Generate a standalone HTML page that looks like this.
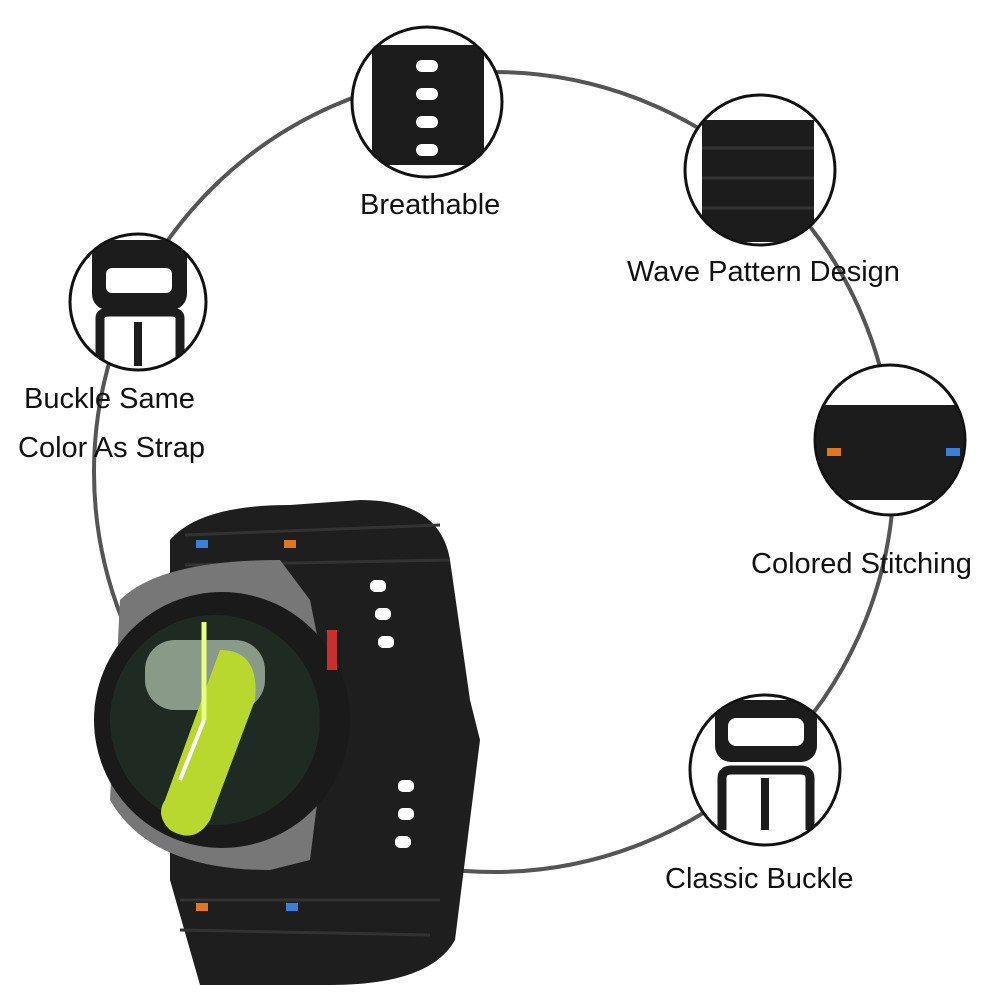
<!DOCTYPE html>
<html><head><meta charset="utf-8"><style>
body{margin:0;background:#fff}
svg{display:block}
text{font-family:"Liberation Sans",sans-serif;font-size:29px;fill:#111}
</style></head><body>
<svg width="1000" height="1000" viewBox="0 0 1000 1000">
<defs>
<clipPath id="c1"><circle cx="427" cy="102" r="74"/></clipPath>
<clipPath id="c2"><circle cx="760" cy="170" r="74"/></clipPath>
<clipPath id="c3"><circle cx="138" cy="302" r="67"/></clipPath>
<clipPath id="c4"><circle cx="890" cy="440" r="74"/></clipPath>
<clipPath id="c5"><circle cx="765" cy="770" r="74"/></clipPath>
</defs>
<circle cx="494" cy="472" r="400" fill="none" stroke="#555" stroke-width="4"/>
<!-- Breathable -->
<circle cx="427" cy="102" r="75" fill="#fff" stroke="#111" stroke-width="3"/>
<g clip-path="url(#c1)">
<rect x="372" y="45" width="112" height="120" fill="#1c1c1c"/>
<g fill="#fff"><rect x="416" y="60" width="22" height="12" rx="6"/><rect x="416" y="88" width="22" height="12" rx="6"/><rect x="416" y="116" width="22" height="12" rx="6"/><rect x="416" y="144" width="22" height="12" rx="6"/></g>
</g>
<text x="360" y="214">Breathable</text>
<!-- Wave -->
<circle cx="760" cy="170" r="75" fill="#fff" stroke="#111" stroke-width="3"/>
<g clip-path="url(#c2)">
<rect x="702" y="120" width="112" height="122" fill="#1c1c1c"/>
<g stroke="#333" stroke-width="3"><line x1="702" y1="148" x2="814" y2="148"/><line x1="702" y1="178" x2="814" y2="178"/><line x1="702" y1="208" x2="814" y2="208"/></g>
</g>
<text x="627" y="281">Wave Pattern Design</text>
<!-- Buckle left -->
<circle cx="138" cy="302" r="68" fill="#fff" stroke="#111" stroke-width="3"/>
<g clip-path="url(#c3)">
<rect x="92" y="240" width="95" height="70" rx="16" fill="#1c1c1c"/>
<rect x="106" y="268" width="66" height="25" rx="6" fill="#fff"/>
<path d="M100 362 L100 318 Q100 312 110 312 L170 312 Q180 312 180 318 L180 362" fill="none" stroke="#1c1c1c" stroke-width="9"/>
<rect x="134" y="322" width="8" height="44" fill="#1c1c1c"/>
</g>
<text x="24" y="408">Buckle Same</text>
<text x="18" y="457">Color As Strap</text>
<!-- Stitching -->
<circle cx="890" cy="440" r="75" fill="#fff" stroke="#111" stroke-width="3"/>
<g clip-path="url(#c4)">
<rect x="815" y="405" width="160" height="95" fill="#1c1c1c"/>
<rect x="827" y="448" width="14" height="8" fill="#e07820"/>
<rect x="946" y="448" width="14" height="8" fill="#3a80d8"/>
</g>
<text x="751" y="573">Colored Stitching</text>
<!-- Classic buckle -->
<circle cx="765" cy="770" r="75" fill="#fff" stroke="#111" stroke-width="3"/>
<g clip-path="url(#c5)">
<rect x="715" y="700" width="102" height="62" rx="16" fill="#1c1c1c"/>
<rect x="728" y="718" width="76" height="28" rx="8" fill="#fff"/>
<path d="M722 830 L722 778 Q722 770 732 770 L800 770 Q810 770 810 778 L810 830" fill="none" stroke="#1c1c1c" stroke-width="9"/>
<rect x="761" y="778" width="8" height="52" fill="#1c1c1c"/>
</g>
<text x="665" y="888">Classic Buckle</text>
<!-- Watch -->
<path d="M170 540 Q200 505 290 505 L360 500 Q440 500 450 560 L470 700 L480 740 L455 940 Q430 985 330 985 L200 985 L170 880 Z" fill="#1e1e1e"/>
<g stroke="#333" stroke-width="3">
<line x1="185" y1="535" x2="440" y2="525"/><line x1="185" y1="565" x2="450" y2="560"/><line x1="180" y1="900" x2="440" y2="900"/><line x1="180" y1="930" x2="430" y2="935"/>
</g>
<g fill="#fff"><rect x="370" y="580" width="16" height="12" rx="5"/><rect x="375" y="608" width="16" height="12" rx="5"/><rect x="378" y="636" width="16" height="12" rx="5"/><rect x="398" y="780" width="16" height="12" rx="5"/><rect x="398" y="808" width="16" height="12" rx="5"/><rect x="395" y="836" width="16" height="12" rx="5"/></g>
<rect x="196" y="540" width="12" height="8" fill="#3a80d8"/><rect x="284" y="540" width="12" height="8" fill="#e07820"/>
<rect x="196" y="903" width="12" height="8" fill="#e07820"/><rect x="286" y="903" width="12" height="8" fill="#3a80d8"/>
<path d="M120 600 Q160 560 280 560 L310 600 L330 700 L310 860 L270 870 Q150 870 110 800 Z" fill="#777"/>
<circle cx="222" cy="720" r="128" fill="#1a1a1a"/>
<circle cx="215" cy="720" r="105" fill="#1f2a22"/>
<rect x="145" y="640" width="120" height="70" rx="30" fill="#8a9a88"/>
<path d="M220 650 Q260 650 255 700 L210 820 Q195 845 170 830 Q155 815 165 800 Z" fill="#b8d830"/>
<line x1="204" y1="622" x2="204" y2="720" stroke="#e8ff80" stroke-width="5"/>
<line x1="204" y1="720" x2="180" y2="780" stroke="#fff" stroke-width="4"/>
<rect x="327" y="630" width="10" height="40" fill="#c83030"/>
</svg>
</body></html>
